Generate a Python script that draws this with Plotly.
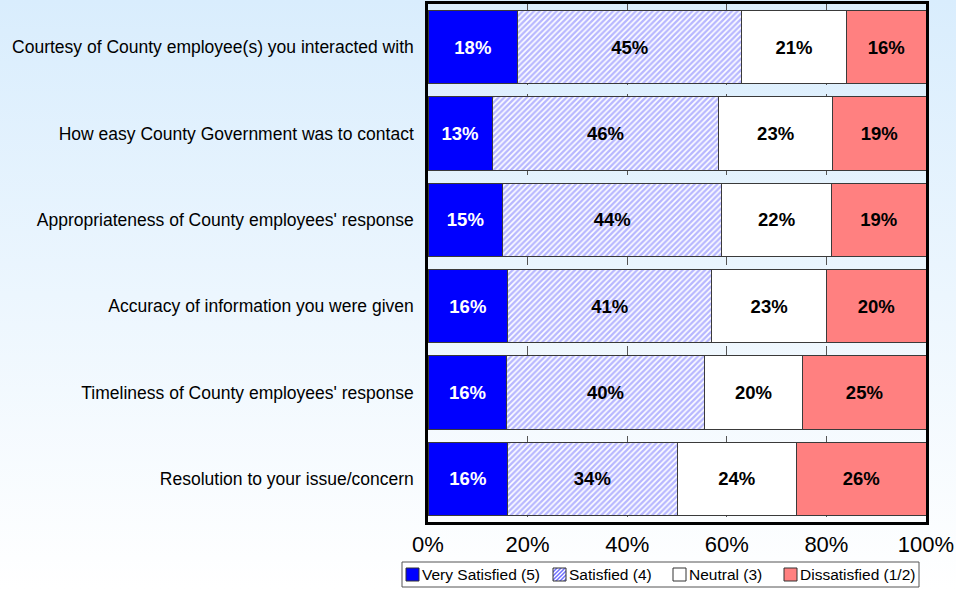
import base64
import plotly.graph_objects as go

# Survey items, listed top to bottom
categories = [
    "Courtesy of County employee(s) you interacted with",
    "How easy County Government was to contact",
    "Appropriateness of County employees' response",
    "Accuracy of information you were given",
    "Timeliness of County employees' response",
    "Resolution to your issue/concern",
]

# Share of respondents (%) per rating
very_satisfied = [18, 13, 15, 16, 16, 16]
satisfied = [45, 46, 44, 41, 40, 34]
neutral = [21, 23, 22, 23, 20, 24]
dissatisfied = [16, 19, 19, 20, 25, 26]

series_names = ["Very Satisfied (5)", "Satisfied (4)", "Neutral (3)", "Dissatisfied (1/2)"]
x_ticks = [0, 20, 40, 60, 80, 100]
x_tick_text = ["0%", "20%", "40%", "60%", "80%", "100%"]

W, H = 956, 589
ML, MR, MT, MB = 428, 30, 4, 67
PW, PH = W - ML - MR, H - MT - MB

FONT = "Liberation Sans, Arial, sans-serif"
OUTLINE = dict(color="#3a3a3a", width=1)
HATCH = "#7070ff"


def px_x(px):
    return (px - ML) / PW


def px_y(py):
    return 1 - (py - MT) / PH


def svg_uri(svg):
    return "data:image/svg+xml;base64," + base64.b64encode(svg.encode()).decode()


fig = go.Figure()

styles = [
    dict(color="#0000ff", text="white", pattern=None),
    dict(color="#ffffff", text="black",
         pattern=dict(shape="/", fgcolor=HATCH, bgcolor="#ffffff", size=4, solidity=0.6)),
    dict(color="#ffffff", text="black", pattern=None),
    dict(color="#ff8080", text="black", pattern=None),
]

for name, vals, st in zip(series_names, [very_satisfied, satisfied, neutral, dissatisfied], styles):
    marker = dict(color=st["color"], line=OUTLINE)
    if st["pattern"]:
        marker["pattern"] = st["pattern"]
    fig.add_trace(go.Bar(
        name=name,
        y=categories,
        x=vals,
        orientation="h",
        marker=marker,
        text=[f"{v}%" for v in vals],
        textposition="inside",
        insidetextanchor="middle",
        textangle=0,
        constraintext="none",
        textfont=dict(family=FONT, size=18.5, color=st["text"], weight="bold"),
        hoverinfo="skip",
        showlegend=False,
    ))

# Soft vertical background gradient behind the whole figure
bg_svg = (
    f'<svg xmlns="http://www.w3.org/2000/svg" width="{W}" height="{H}">'
    '<defs><linearGradient id="g" x1="0" y1="0" x2="0" y2="1">'
    '<stop offset="0" stop-color="#d9edfd"/><stop offset="1" stop-color="#ffffff"/>'
    '</linearGradient></defs>'
    f'<rect width="{W}" height="{H}" fill="url(#g)"/></svg>'
)
images = [dict(
    source=svg_uri(bg_svg), xref="paper", yref="paper",
    x=px_x(0), y=px_y(0), sizex=W / PW, sizey=H / PH,
    xanchor="left", yanchor="top", sizing="stretch", layer="below",
)]

# Legend box drawn below the axis: key swatch followed by its label
shapes = []
annotations = []
LEG_X0, LEG_X1, LEG_Y0, LEG_Y1 = 402, 919, 562, 587
shapes.append(dict(type="rect", xref="paper", yref="paper",
                   x0=px_x(LEG_X0), x1=px_x(LEG_X1), y0=px_y(LEG_Y1), y1=px_y(LEG_Y0),
                   fillcolor="#ffffff", line=dict(color="#555555", width=1), layer="below"))

swatch_left = [406, 553, 673, 784]
SW = 13
sy0, sy1 = 568, 581
swatch_fill = ["#0000ff", None, "#ffffff", "#ff8080"]
for name, sx, fill in zip(series_names, swatch_left, swatch_fill):
    if fill is None:
        hatch_svg = (
            f'<svg xmlns="http://www.w3.org/2000/svg" width="{SW}" height="{SW}">'
            '<defs><pattern id="p" width="4" height="4" patternUnits="userSpaceOnUse">'
            f'<path d="M-1,1 L1,-1 M0,4 L4,0 M3,5 L5,3" stroke="{HATCH}" stroke-width="1.5"/>'
            '</pattern></defs>'
            f'<rect width="{SW}" height="{SW}" fill="#ffffff"/>'
            f'<rect width="{SW}" height="{SW}" fill="url(#p)"/></svg>'
        )
        images.append(dict(
            source=svg_uri(hatch_svg), xref="paper", yref="paper",
            x=px_x(sx), y=px_y(sy0), sizex=SW / PW, sizey=SW / PH,
            xanchor="left", yanchor="top", sizing="stretch", layer="above",
        ))
        fill = "rgba(0,0,0,0)"
    shapes.append(dict(type="rect", xref="paper", yref="paper",
                       x0=px_x(sx), x1=px_x(sx + SW), y0=px_y(sy1), y1=px_y(sy0),
                       fillcolor=fill, line=dict(color="#333333", width=1),
                       layer="above"))
    annotations.append(dict(
        xref="paper", yref="paper", x=px_x(sx + SW + 1), y=px_y((sy0 + sy1) / 2),
        xanchor="left", yanchor="middle", showarrow=False, text=name,
        font=dict(family=FONT, size=15.5, color="black"),
    ))

fig.update_layout(
    width=W, height=H,
    margin=dict(l=ML, r=MR, t=MT, b=MB, pad=0, autoexpand=False),
    barmode="stack",
    barnorm="percent",
    bargap=0.154,
    paper_bgcolor="#ffffff",
    plot_bgcolor="#ffffff",
    font=dict(family=FONT, color="black"),
    showlegend=False,
    images=images,
    shapes=shapes,
    annotations=annotations,
    xaxis=dict(
        range=[0, 100],
        tickvals=x_ticks, ticktext=x_tick_text,
        tickfont=dict(family=FONT, size=22, color="black"),
        ticks="outside", ticklen=1, tickcolor="rgba(0,0,0,0)",
        showgrid=True, gridcolor="#555555", griddash="dash", gridwidth=1,
        zeroline=False,
        showline=True, mirror=True, linecolor="black", linewidth=2.5,
        automargin=False,
        fixedrange=True,
    ),
    yaxis=dict(
        categoryorder="array", categoryarray=categories,
        autorange="reversed",
        tickfont=dict(family=FONT, size=17.5, color="black"),
        ticks="outside", ticklen=8, tickcolor="rgba(0,0,0,0)",
        showgrid=False, zeroline=False,
        showline=True, mirror=True, linecolor="black", linewidth=2.5,
        automargin=False,
        fixedrange=True,
    ),
)

fig.write_html("out.html")
